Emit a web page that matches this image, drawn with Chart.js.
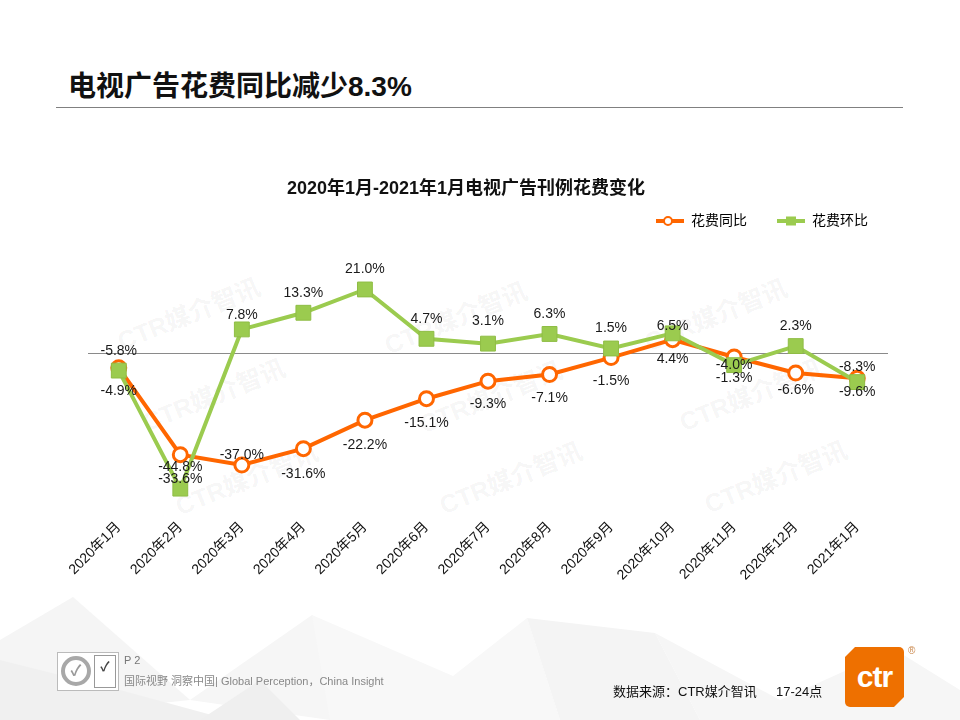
<!DOCTYPE html>
<html>
<head>
<meta charset="utf-8">
<script src="https://cdn.jsdelivr.net/npm/chart.js@4.4.1/dist/chart.umd.min.js"></script>
<style>
  body { margin: 0; background: #fff; }
  #page { position: relative; width: 960px; height: 720px; overflow: hidden; background: #fff;
          font-family: "Liberation Sans", Arial, "Noto Sans CJK SC", sans-serif; }
  .abs { position: absolute; white-space: nowrap; }
  .mark { position: absolute; white-space: nowrap; font-weight: bold; font-size: 25px;
          color: rgba(0,0,0,0.055); transform: translate(-50%, -50%) rotate(-22deg); }
  #chart { position: absolute; left: 0; top: 0; }
</style>
</head>
<body>
<div id="page">
  <svg class="abs" style="left:0;top:0" width="960" height="720">
    <polygon points="0,640 73,597 190,700 0,720" fill="#f5f5f5"/>
    <polygon points="0,720 0,660 120,690 230,720" fill="#f0f0f0"/>
    <polygon points="190,700 312,615 420,690 330,720" fill="#f6f6f6"/>
    <polygon points="312,615 453,676 527,618 560,720 330,720" fill="#f8f8f8"/>
    <polygon points="527,618 655,633 700,720 560,720" fill="#f4f4f4"/>
    <polygon points="655,633 780,700 894,649 960,690 960,720 700,720" fill="#f6f6f6"/>
    <polygon points="200,720 260,680 300,720" fill="#efefef"/>
  </svg>

  <div class="abs" style="left:68px;top:70px;font-size:28px;line-height:34px;font-weight:bold;color:#111">电视广告花费同比减少8.3%</div>
  <div class="abs" style="left:56px;top:107px;width:847px;height:1px;background:#808080"></div>

  <div class="mark" style="left:188px;top:312px">CTR媒介智讯</div>
  <div class="mark" style="left:455px;top:316px">CTR媒介智讯</div>
  <div class="mark" style="left:715px;top:313px">CTR媒介智讯</div>
  <div class="mark" style="left:213px;top:393px">CTR媒介智讯</div>
  <div class="mark" style="left:490px;top:395px">CTR媒介智讯</div>
  <div class="mark" style="left:750px;top:393px">CTR媒介智讯</div>
  <div class="mark" style="left:246px;top:477px">CTR媒介智讯</div>
  <div class="mark" style="left:510px;top:476px">CTR媒介智讯</div>
  <div class="mark" style="left:775px;top:475px">CTR媒介智讯</div>

  <canvas id="chart" width="960" height="720"></canvas>

  <!-- footer -->
  <div class="abs" style="left:57px;top:652px;width:60px;height:37px;border:1px solid #bbb;background:#fff"></div>
  <div class="abs" style="left:61px;top:656px;width:22px;height:22px;border:4px solid #a8a8a8;border-radius:50%;font-size:15px;line-height:22px;text-align:center;color:#999;font-weight:bold">✓</div>
  <div class="abs" style="left:94px;top:655px;width:20px;height:31px;border:1px solid #999;font-size:13px;line-height:22px;text-align:center;color:#444;font-weight:bold">✓</div>
  <div class="abs" style="left:124px;top:653px;font-size:11px;line-height:14px;color:#777">P 2</div>
  <div class="abs" style="left:124px;top:674px;font-size:11px;line-height:14px;color:#888">国际视野 洞察中国| Global Perception，China Insight</div>
  <div class="abs" style="left:613px;top:684px;font-size:13px;line-height:16px;color:#111">数据来源：CTR媒介智讯</div>
  <div class="abs" style="left:776px;top:684px;font-size:13px;line-height:16px;color:#111">17-24点</div>
  <div class="abs" style="left:845px;top:647px;width:59px;height:60px;background:#EE7000;border-radius:5px;
       clip-path:polygon(10px 0,100% 0,100% 50px,49px 100%,0 100%,0 10px);
       color:#fff;font-weight:bold;font-size:30px;line-height:60px;text-align:center;letter-spacing:-1px">ctr</div>
  <div class="abs" style="left:908px;top:645px;font-size:10px;color:#c9864a">®</div>
</div>

<script>
const months = ['2020年1月', '2020年2月', '2020年3月', '2020年4月', '2020年5月', '2020年6月', '2020年7月',
    '2020年8月', '2020年9月', '2020年10月', '2020年11月', '2020年12月', '2021年1月'];
const yoy = [-4.9, -33.6, -37.0, -31.6, -22.2, -15.1, -9.3, -7.1, -1.5, 4.4, -1.3, -6.6, -8.3];
const mom = [-5.8, -44.8, 7.8, 13.3, 21.0, 4.7, 3.1, 6.3, 1.5, 6.5, -4.0, 2.3, -9.6];
const seriesNames = ['花费同比', '花费环比'];
const chartTitle = '2020年1月-2021年1月电视广告刊例花费变化';

const ORANGE = '#FF6600';
const GREEN = '#9BCB4F';
const fontFamily = '"Liberation Sans", Arial, "Noto Sans CJK SC", sans-serif';
Chart.defaults.font.family = fontFamily;

// vertical nudge of each value label (px), per series
const labelShift = [
    [23, 24, -10, 25, 25, 24, 23, 24, 24, 19, 21, 17, -11],
    [-19, -21, -14, -20, -20, -20, -22, -20, -20, -7, 0, -20, 10]
];

function legendIcon(color, shape) {
    const c = document.createElement('canvas');
    c.width = 28;
    c.height = 14;
    const g = c.getContext('2d');
    g.strokeStyle = color;
    g.lineWidth = 4;
    g.beginPath();
    g.moveTo(0, 7);
    g.lineTo(28, 7);
    g.stroke();
    if (shape === 'circle') {
        g.fillStyle = '#fff';
        g.lineWidth = 2;
        g.beginPath();
        g.arc(12, 7, 4, 0, Math.PI * 2);
        g.fill();
        g.stroke();
    } else {
        g.fillStyle = color;
        g.fillRect(9, 2.5, 10, 9);
    }
    return c;
}
const icons = [legendIcon(ORANGE, 'circle'), legendIcon(GREEN, 'rect')];

const valueLabels = {
    id: 'valueLabels',
    afterDatasetsDraw(chart) {
        const ctx = chart.ctx;
        ctx.save();
        ctx.font = '14px ' + fontFamily;
        ctx.fillStyle = '#1a1a1a';
        ctx.textAlign = 'center';
        ctx.textBaseline = 'middle';
        chart.data.datasets.forEach((ds, i) => {
            chart.getDatasetMeta(i).data.forEach((pt, j) => {
                ctx.fillText(ds.data[j].toFixed(1) + '%', pt.x, pt.y + labelShift[i][j]);
            });
        });
        ctx.restore();
    }
};

new Chart(document.getElementById('chart'), {
    type: 'line',
    data: {
        labels: months,
        datasets: [
            {
                label: seriesNames[0],
                data: yoy,
                order: 2,
                borderColor: ORANGE,
                borderWidth: 4,
                pointStyle: 'circle',
                pointRadius: 7,
                pointBorderWidth: 3,
                pointBackgroundColor: '#fff',
                pointBorderColor: ORANGE,
                tension: 0
            },
            {
                label: seriesNames[1],
                data: mom,
                order: 1,
                borderColor: GREEN,
                borderWidth: 4,
                pointStyle: 'rect',
                pointRadius: 10.5,
                pointBorderWidth: 1,
                pointBackgroundColor: GREEN,
                pointBorderColor: '#8fbd45',
                tension: 0
            }
        ]
    },
    options: {
        responsive: false,
        animation: false,
        layout: { padding: { top: 170, left: 34, right: 62, bottom: 112 } },
        plugins: {
            title: {
                display: true,
                text: chartTitle,
                color: '#111',
                font: { size: 18, weight: 'bold' },
                padding: { top: 8.2, bottom: -15.8 }
            },
            legend: {
                position: 'top',
                align: 'end',
                labels: {
                    usePointStyle: true,
                    pointStyleWidth: 28,
                    padding: 30,
                    color: '#222',
                    font: { size: 14 },
                    generateLabels: (chart) => chart.data.datasets.map((ds, i) => ({
                        text: ds.label,
                        pointStyle: icons[i],
                        fillStyle: 'rgba(0,0,0,0)',
                        strokeStyle: 'rgba(0,0,0,0)',
                        lineWidth: 0,
                        hidden: false,
                        datasetIndex: i
                    }))
                }
            },
            tooltip: { enabled: false }
        },
        scales: {
            x: {
                type: 'category',
                offset: true,
                grid: { display: false },
                border: { display: false },
                ticks: {
                    autoSkip: false,
                    minRotation: 45,
                    maxRotation: 45,
                    padding: 3,
                    color: '#111',
                    font: { size: 14 }
                },
                afterFit: (s) => { s.height = 100; }
            },
            y: {
                position: 'left',
                min: -51.2,
                max: 38,
                ticks: { display: false, stepSize: 10 },
                border: { display: false },
                grid: {
                    drawTicks: false,
                    color: (c) => (c.tick && c.tick.value === 0 ? '#8a8a8a' : 'rgba(0,0,0,0)'),
                    lineWidth: 1
                },
                afterFit: (s) => { s.width = 54; }
            },
            y2: {
                position: 'right',
                min: -51.2,
                max: 38,
                ticks: { display: false },
                border: { display: false },
                grid: { display: false, drawTicks: false },
                afterFit: (s) => { s.width = 10; }
            }
        }
    },
    plugins: [valueLabels]
});
</script>
</body>
</html>
